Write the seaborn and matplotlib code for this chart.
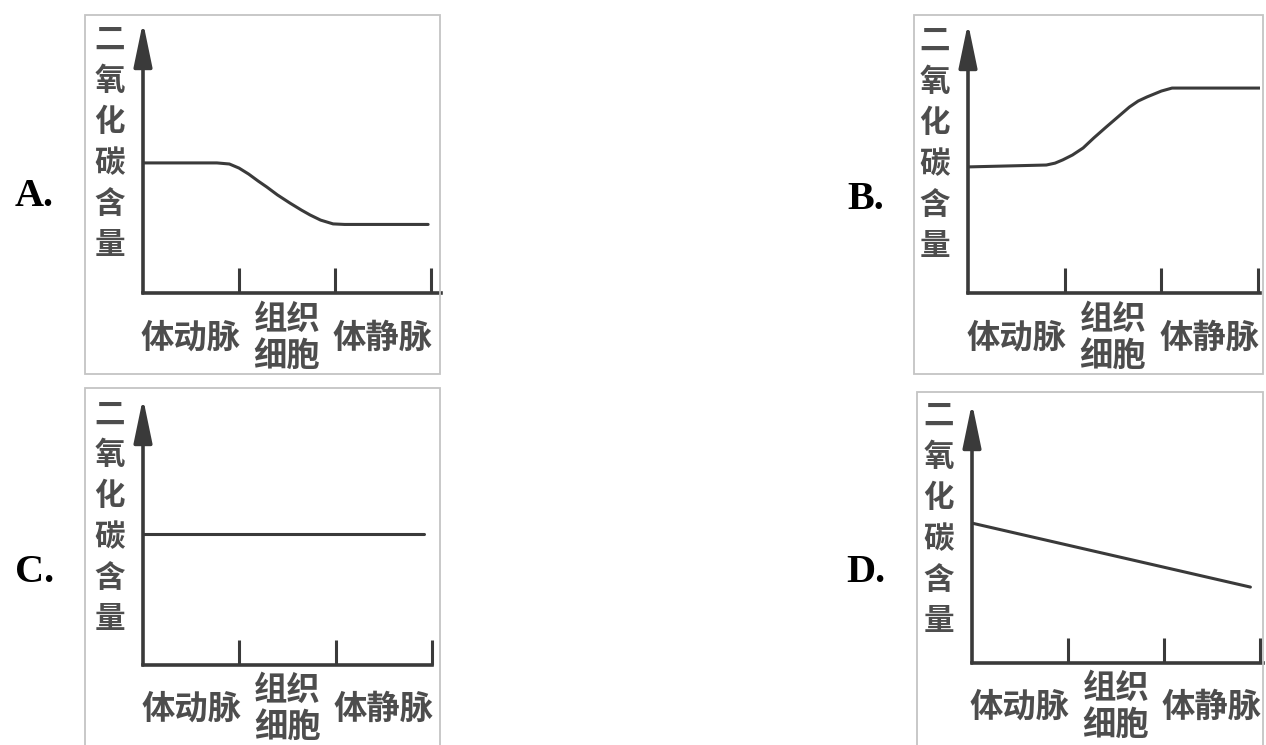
import matplotlib
matplotlib.use("Agg")
import matplotlib.pyplot as plt
import seaborn as sns
import pandas as pd
from matplotlib.patches import Rectangle

# ---------------- data ----------------
segments = ["体动脉", "组织\n细胞", "体静脉"]
segment_centers = [0.5, 1.5, 2.5]
boundary_ticks = [1, 2, 3]
ylabel_chars = ["二", "氧", "化", "碳", "含", "量"]
option_letters = ["A.", "B.", "C.", "D."]

a_x = [0.0, 0.77, 0.90, 1.00, 1.10, 1.20, 1.29, 1.40, 1.53, 1.65, 1.74, 1.85, 1.98, 2.10, 2.97]
a_y = [4.80, 4.80, 4.76, 4.61, 4.39, 4.13, 3.91, 3.62, 3.32, 3.06, 2.88, 2.69, 2.55, 2.53, 2.53]

b_x = [0.0, 0.81, 0.90, 0.98, 1.08, 1.19, 1.30, 1.43, 1.55, 1.67, 1.76, 1.85, 2.00, 2.11, 3.02]
b_y = [4.67, 4.74, 4.81, 4.93, 5.11, 5.37, 5.74, 6.15, 6.52, 6.89, 7.11, 7.26, 7.48, 7.59, 7.59]

c_x = [0.0, 2.92]
c_y = [4.91, 4.91]

d_x = [0.0, 2.90]
d_y = [5.38, 2.92]

# ---------------- layout (pixels, top-left origin) ----------------
W, H = 1266, 745
panels = [
    dict(x=a_x, y=a_y, ox=143, oy=293, unit=96.0, tip=22, xmax=3.10,
         box=(85, 15, 440, 374), letter=(15, 197), lab_off=45),
    dict(x=b_x, y=b_y, ox=968, oy=293, unit=96.7, tip=23, xmax=3.02,
         box=(914, 15, 1263, 374), letter=(847, 199), lab_off=45),
    dict(x=c_x, y=c_y, ox=143, oy=665, unit=96.3, tip=398, xmax=3.00,
         box=(85, 388, 440, 760), letter=(15, 572), lab_off=44),
    dict(x=d_x, y=d_y, ox=972, oy=663, unit=96.0, tip=403, xmax=3.03,
         box=(917, 392, 1263, 760), letter=(846, 572), lab_off=44),
]

ink = "#3a3a3a"
text_col = "#4d4d4d"

sns.set_theme(style="white")
plt.rcParams["font.family"] = ["Noto Sans CJK SC", "DejaVu Sans"]

fig = plt.figure(figsize=(W / 100, H / 100), dpi=100)
fig.patch.set_facecolor("white")

for p, letter in zip(panels, option_letters):
    # frame box
    x0, y0, x1, y1 = p["box"]
    fig.patches.append(Rectangle((x0 / W, 1 - y1 / H), (x1 - x0) / W, (y1 - y0) / H,
                                 transform=fig.transFigure, fill=False,
                                 edgecolor="#c4c4c4", linewidth=1.3, zorder=0))
    # axes
    wpx = p["xmax"] * p["unit"]
    hpx = p["oy"] - p["tip"]
    ax = fig.add_axes([p["ox"] / W, 1 - p["oy"] / H, wpx / W, hpx / H])
    ax.set_facecolor("none")
    df = pd.DataFrame({"pos": p["x"], "co2": p["y"]})
    sns.lineplot(data=df, x="pos", y="co2", ax=ax, color=ink, linewidth=2.2,
                 estimator=None, sort=False)
    ax.set_xlim(0, p["xmax"])
    ax.set_ylim(0, 10)
    ax.set_xlabel("")
    ax.set_ylabel("")
    for s in ["top", "right", "left"]:
        ax.spines[s].set_visible(False)
    ax.spines["bottom"].set_color(ink)
    ax.spines["bottom"].set_linewidth(2.6)
    ax.set_yticks([])
    ax.set_xticks(boundary_ticks)
    ax.set_xticklabels([])
    ax.tick_params(axis="x", direction="in", length=18, width=2.2, color=ink,
                   bottom=True)
    # y axis with arrow
    ax.annotate("", xy=(0, 1), xytext=(0, 0), xycoords="axes fraction",
                textcoords="axes fraction", annotation_clip=False,
                arrowprops=dict(arrowstyle="-|>,head_length=1.35,head_width=0.28",
                                mutation_scale=20, lw=2.6, color=ink,
                                shrinkA=0, shrinkB=0))
    # x category labels
    for cx, lab in zip(segment_centers, segments):
        ax.text(cx, -p["lab_off"] / hpx, lab, transform=ax.get_xaxis_transform(),
                ha="center", va="center", fontsize=24, color=text_col,
                fontweight="bold", linespacing=1.18)
    # stacked y label
    ax.annotate("\n".join(ylabel_chars), xy=(0, 0.555), xycoords="axes fraction",
                xytext=(-24, 0), textcoords="offset points",
                ha="center", va="center", fontsize=22, color=text_col,
                fontweight="bold", linespacing=1.36, annotation_clip=False)
    # option letter
    lx, ly = p["letter"]
    fig.text(lx / W, 1 - ly / H, letter, ha="left", va="center",
             fontsize=29, fontweight="bold", color="black",
             family=["Liberation Serif", "DejaVu Serif"])

fig.savefig("out.png", dpi=100, facecolor="white")
